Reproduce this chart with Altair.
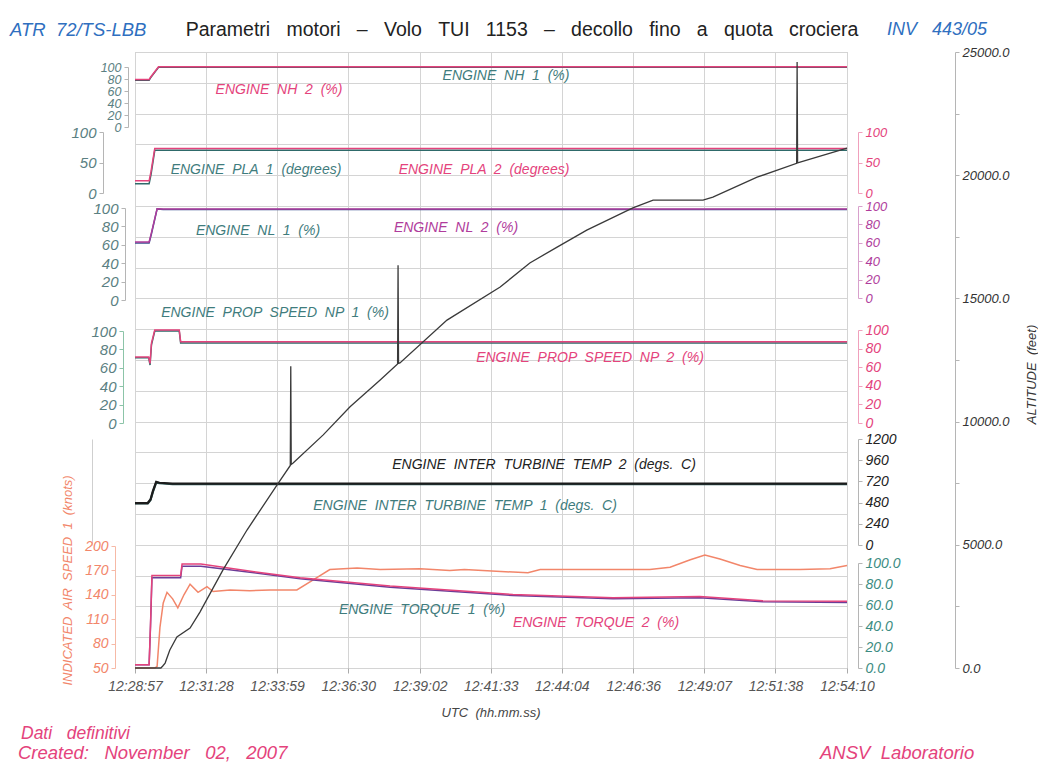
import json
import altair as alt
import pandas as pd

FONT = "Liberation Sans"

# ---------------- time axis ----------------
TICK_LABELS = ["12:28:57", "12:31:28", "12:33:59", "12:36:30", "12:39:02", "12:41:33",
               "12:44:04", "12:46:36", "12:49:07", "12:51:38", "12:54:10"]


def _sec(lbl):
    h, m, s = (int(p) for p in lbl.split(":"))
    return h * 3600 + m * 60 + s


T0 = _sec(TICK_LABELS[0])
TICK_SECS = [_sec(l) - T0 for l in TICK_LABELS]
T_END = TICK_SECS[-1]

# ---------------- series (seconds from 12:28:57) ----------------
NH_T = [0, 30, 33, 50, 1513]
NH1_V = [78, 78, 82, 99.5, 99.5]
NH2_V = [79, 79, 83, 100.5, 100.5]

PLA_T = [0, 30, 34, 42, 1513]
PLA1_V = [15, 15, 30, 70, 70]
PLA2_V = [20, 20, 35, 73, 73]

NL_T = [0, 30, 35, 47, 60, 1513]
NL1_V = [62, 62, 72, 99, 98.5, 98.5]
NL2_V = [61, 61, 71, 97, 96.8, 96.8]

NP_T = [0, 29, 32, 35, 42, 94, 97, 1513]
NP1_V = [71, 71, 63, 85, 100, 100, 87, 87]
NP2_V = [71, 71, 64, 86, 100, 100, 87.5, 87.5]

ITT_T = [0, 27, 30, 33, 38, 45, 52, 80, 1513]
ITT1_V = [470, 470, 490, 510, 600, 705, 700, 688, 688]
ITT2_V = [475, 475, 495, 515, 610, 715, 705, 695, 695]

IAS_T = [0, 42, 47, 53, 60, 68, 80, 91, 104, 117, 134, 153, 166, 202, 244, 287, 344,
         383, 414, 472, 521, 606, 669, 700, 835, 861, 988, 1094, 1137, 1180, 1211,
         1243, 1286, 1322, 1413, 1477, 1513]
IAS_V = [50, 50, 52, 100, 130, 143, 135, 124, 140, 153, 143, 150, 144, 146, 145, 146, 146,
         160, 171, 173, 171, 172, 170, 171, 167, 171, 171, 171, 174, 183, 189,
         184, 176, 171, 171, 172, 176]

TQ_T = [0, 30, 33, 36, 97, 100, 140, 265, 351, 542, 803, 1016, 1200, 1334, 1513]
TQ1_V = [3, 3, 40, 86, 86, 97, 97, 90, 85, 77, 69, 66, 67, 63, 62.5]
TQ2_V = [3, 3, 42, 88, 88, 99, 99, 91, 86, 78, 70, 67, 68, 64, 63.5]

ALT_T = [0, 55, 59, 64, 74, 89, 117, 138, 187, 238, 302, 330, 331, 332, 336, 400,
         457, 521, 558, 559, 560, 563, 663, 776, 839, 897, 960, 1058, 1101, 1207,
         1228, 1322, 1406, 1407, 1408, 1513]
ALT_V = [0, 0, 80, 200, 730, 1260, 1620, 2270, 3980, 5600, 7430, 8220, 12250, 8260, 8320, 9460,
         10600, 11690, 12340, 16350, 12360, 12380, 14120, 15460, 16440, 17080, 17770, 18670,
         18990, 18990, 19110, 19920, 20480, 24590, 20500, 21100]

# ---------------- layout (pixels within plot area) ----------------
W, H = 712, 616
GRID = "#d4d4d4"
TEAL = "#3f7c7d"
PINK = "#e4437c"
PURPLE = "#b03c9c"
ORANGE = "#f2866a"
BLUE = "#2f6fc0"

X = alt.X(
    "t:Q",
    scale=alt.Scale(domain=[0, T_END], nice=False, zero=False),
    axis=alt.Axis(
        values=TICK_SECS,
        labelExpr=f"{json.dumps(TICK_LABELS)}[indexof({json.dumps(TICK_SECS)}, datum.value)]",
        grid=True, gridColor=GRID, gridWidth=1, domain=False,
        ticks=True, tickColor="#aaa", tickSize=5,
        labelFont=FONT, labelFontStyle="italic", labelFontSize=14, labelColor="#555",
        labelPadding=6, labelFlush=False, labelOverlap=False,
        title="",
    ),
)


def yaxis(orient, offset, color, values, fmt=None, size=14, title="", domain_color="#b5b5b5", **kw):
    args = dict(
        orient=orient, offset=offset, grid=False, values=values,
        labelColor=color, labelFont=FONT, labelFontStyle="italic", labelFontSize=size,
        labelOverlap=False, labelPadding=3, labelBound=False, labelFlush=False,
        domainColor=domain_color, tickColor=domain_color, tickSize=4,
        title=title,
    )
    if fmt:
        args["format"] = fmt
    args.update(kw)
    return alt.Axis(**args)


def line(t, v, color, dom, rng, axis=None, width=1.5):
    df = pd.DataFrame({"t": t, "v": v})
    sc = alt.Scale(domain=dom, range=rng, nice=False, zero=False)
    y = alt.Y("v:Q", scale=sc, axis=axis) if axis is not None else alt.Y("v:Q", scale=sc, axis=None)
    return alt.Chart(df).mark_line(color=color, strokeWidth=width, interpolate="linear").encode(x=X, y=y)


layers = []

# horizontal grid (every 1250 ft on the altitude scale)
layers.append(
    alt.Chart(pd.DataFrame({"t": ALT_T, "v": ALT_V})).mark_line(opacity=0).encode(
        x=X,
        y=alt.Y("v:Q", scale=alt.Scale(domain=[0, 25000], range=[H, 0], nice=False, zero=False),
                axis=alt.Axis(orient="right", values=list(range(0, 25001, 1250)), grid=True,
                              gridColor=GRID, labels=False, ticks=False, domain=False, title="")),
    )
)

AXC = "#5b7f82"
# NH
layers.append(line(NH_T, NH1_V, "#3c5660", [0, 100], [75, 15],
                   yaxis("left", 7, AXC, [0, 20, 40, 60, 80, 100], size=12.5)))
layers.append(line(NH_T, NH2_V, PINK, [0, 100], [75, 15]))
# PLA
layers.append(line(PLA_T, PLA1_V, "#2e6a6a", [0, 100], [141, 80],
                   yaxis("left", 32, AXC, [0, 50, 100], size=15)))
layers.append(line(PLA_T, PLA2_V, PINK, [0, 100], [141, 80],
                   yaxis("right", 11, PINK, [0, 50, 100], size=13, domain_color="#f0a0bc")))
# NL
layers.append(line(NL_T, NL1_V, "#3a4f8f", [0, 100], [248, 156],
                   yaxis("left", 10, AXC, [0, 20, 40, 60, 80, 100], size=15)))
layers.append(line(NL_T, NL2_V, PURPLE, [0, 100], [246, 154],
                   yaxis("right", 11, PURPLE, [0, 20, 40, 60, 80, 100], size=13,
                         domain_color="#d8a0cc")))
# NP
layers.append(line(NP_T, NP1_V, "#2e6a6a", [0, 100], [371, 279],
                   yaxis("left", 12, AXC, [0, 20, 40, 60, 80, 100], size=15,
                         domain_color="#8cc4a8")))
layers.append(line(NP_T, NP2_V, PINK, [0, 100], [371, 278],
                   yaxis("right", 11, PINK, [0, 20, 40, 60, 80, 100], domain_color="#f0a0bc")))
# ITT
layers.append(line(ITT_T, ITT1_V, "#2b5a58", [0, 1200], [493, 387],
                   yaxis("left", 43, AXC, [0, 1200], labels=False, ticks=False,
                         domain_color="#cfcfcf"), width=2.2))
layers.append(line(ITT_T, ITT2_V, "#1c1c1c", [0, 1200], [493, 387],
                   yaxis("right", 11, "#222", [0, 240, 480, 720, 960, 1200], fmt="d"), width=2.2))
# IAS
layers.append(line(IAS_T, IAS_V, ORANGE, [50, 200], [616, 494],
                   yaxis("left", 20, ORANGE, [50, 80, 110, 140, 170, 200], size=14,
                         title="INDICATED\u00a0 AIR\u00a0 SPEED\u00a0 1\u00a0 (knots)",
                         titleColor=ORANGE, titleFont=FONT, titleFontStyle="italic",
                         titleFontWeight="normal", titleFontSize=13, titleY=528,
                         titlePadding=10, domain_color="#f6b9a6")))
# Torque
layers.append(line(TQ_T, TQ1_V, "#6b3d98", [0, 100], [616, 511],
                   yaxis("right", 11, "#3c8c82", [0, 20, 40, 60, 80, 100], fmt=".1f")))
layers.append(line(TQ_T, TQ2_V, PINK, [0, 100], [616, 511]))
# Altitude
layers.append(line(ALT_T, ALT_V, "#3a3a3a", [0, 25000], [H, 0],
                   yaxis("right", 108, "#333", list(range(0, 25001, 2500)), size=13,
                         labelExpr="datum.value % 5000 == 0 ? format(datum.value, '.1f') : ''",
                         title="ALTITUDE\u00a0 (feet)", titleColor="#333", titleFont=FONT,
                         titleFontStyle="italic", titleFontWeight="normal", titleFontSize=13,
                         titleAngle=270, titleY=322, titlePadding=30),
                   width=1.3))


# ---------------- texts ----------------
def spaced(s, n=1):
    return s.replace(" ", " " + "\u00a0" * n)


ANNOT = [
    ("ENGINE NH 1 (%)", 371, 24, TEAL),
    ("ENGINE NH 2 (%)", 144, 38, PINK),
    ("ENGINE PLA 1 (degrees)", 121, 118, TEAL),
    ("ENGINE PLA 2 (degrees)", 349, 118, PINK),
    ("ENGINE NL 1 (%)", 123, 179, TEAL),
    ("ENGINE NL 2 (%)", 321, 176, PURPLE),
    ("ENGINE PROP SPEED NP 1 (%)", 140, 261, TEAL),
    ("ENGINE PROP SPEED NP 2 (%)", 455, 306, PINK),
    ("ENGINE INTER TURBINE TEMP 2 (degs. C)", 409, 413, "#222"),
    ("ENGINE INTER TURBINE TEMP 1 (degs. C)", 330, 454, TEAL),
    ("ENGINE TORQUE 1 (%)", 287, 558, TEAL),
    ("ENGINE TORQUE 2 (%)", 461, 571, PINK),
]
for txt, px, py, col in ANNOT:
    layers.append(
        alt.Chart(pd.DataFrame({"label": [spaced(txt)]}))
        .mark_text(font=FONT, fontStyle="italic", fontSize=14, color=col, align="center", baseline="middle")
        .encode(x=alt.value(px), y=alt.value(py), text="label:N")
    )

# (text, x, y, colour, align, size, style, baseline, extra spaces)
OUTER = [
    ("ATR 72/TS-LBB", -125, -22, BLUE, "left", 18.5, "italic", "middle", 1),
    ("Parametri motori – Volo TUI 1153 – decollo fino a quota crociera", 387, -22, "#222",
     "center", 19.5, "normal", "middle", 2),
    ("INV 443/05", 752, -22, BLUE, "left", 18, "italic", "middle", 2),
    ("UTC (hh.mm.ss)", 356, 661, "#444", "center", 13, "italic", "middle", 1),
    ("Dati definitivi", -114, 682, PINK, "left", 17.5, "italic", "middle", 2),
    ("Created: November 02, 2007", -117, 707, PINK, "left", 18.5, "italic", "alphabetic", 2),
    ("ANSV Laboratorio", 685, 707, PINK, "left", 18.5, "italic", "alphabetic", 1),
]
for txt, px, py, col, al, fs, st, bl, n in OUTER:
    layers.append(
        alt.Chart(pd.DataFrame({"label": [spaced(txt, n)]}))
        .mark_text(font=FONT, fontStyle=st, fontSize=fs, color=col, align=al, baseline=bl)
        .encode(x=alt.value(px), y=alt.value(py), text="label:N")
    )

chart = (
    alt.layer(*layers)
    .resolve_scale(y="independent")
    .resolve_axis(y="independent")
    .properties(
        width=W, height=H,
        autosize=alt.AutoSizeParams(type="none"),
        padding={"left": 127, "top": 44, "right": 191, "bottom": 97},
        background="white",
    )
    .configure_view(stroke="#bdbdbd", strokeWidth=1)
)

chart.save("out.html", embed_options={"renderer": "svg", "actions": False})
